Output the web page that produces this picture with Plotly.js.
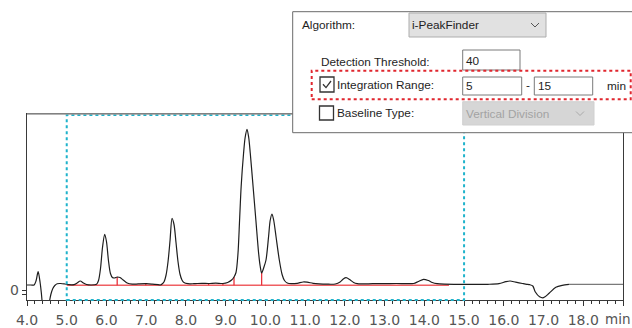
<!DOCTYPE html>
<html>
<head>
<meta charset="utf-8">
<script src="https://cdn.plot.ly/plotly-3.0.1.min.js"></script>
<style>
html,body{margin:0;padding:0;background:#fff;}
#chart{width:632px;height:328px;}
</style>
</head>
<body>
<div id="chart"></div>
<script>
// ---- data ----
const timeMin = [4.00,4.10,4.18,4.23,4.28,4.33,4.36,4.39,4.47,4.56,4.60,4.65,4.70,4.76,4.85,4.95,5.05,5.18,5.26,5.34,5.42,5.50,5.62,
  5.75,5.80,5.85,5.90,5.955,6.00,6.05,6.10,6.15,6.20,6.27,6.34,6.42,6.52,6.65,6.80,7.00,7.15,7.30,7.36,
  7.40,7.45,7.50,7.55,7.60,7.65,7.70,7.75,7.80,7.85,7.90,7.95,8.05,8.20,8.40,8.57,8.75,8.93,9.05,9.15,9.21,9.26,
  9.31,9.35,9.39,9.45,9.49,9.537,9.58,9.62,9.69,9.76,9.83,9.87,9.905,9.96,10.015,10.08,10.12,10.166,10.21,10.267,10.35,10.42,10.48,10.55,10.65,
  10.80,10.95,11.05,11.20,11.35,11.55,11.76,11.88,11.96,12.03,12.12,12.22,12.31,12.45,12.70,13.00,13.30,13.55,
  13.73,13.85,13.98,14.10,14.20,14.32,14.50,14.80,15.20,15.60,15.88,16.05,16.16,16.30,16.47,16.58,16.65,16.73,16.79,16.90,17.00,17.14,17.31,17.47,17.64];
const signal = [5.5,5.5,5.6,10,18.8,8,-2,-14,-30,-12,-4,2,5,6.8,7,6.5,5.8,5.8,7.5,9.5,7.5,6,5.5,
  6.2,10,22,43,56.2,49,30,17,13,12.5,13.5,13,10.5,7.5,6.3,6.6,6.8,6.4,5.8,5.5,
  6.5,8.8,15.5,29,50,72.2,66,48,29,16.5,10.5,8,6.8,6.8,7.2,7.0,7.4,7.0,8,10.5,13.5,18,
  37,70,104,137,153,161.2,153,137,104,70.5,37,24,17.5,23,30.5,54,70,76.5,70,54,30.5,16,10,7.5,6.8,
  7.2,8.5,8.3,7.2,6.6,6.3,6.5,8.5,11.5,12.8,11,8,6.8,6.6,6.8,6.8,7.0,6.8,
  7.0,9,11.2,10,8,6.8,6.3,6.2,6.2,6.2,6.8,8.8,9.5,8.3,7,6.2,5.8,4.5,-1.2,-6.2,-7.2,-2.8,3.2,5.2,6.2];
const tailMin = [17.64, 19.0];
const tailSignal = [6.2, 6.2];
const integrationRange = [5, 15];
const baselineMin = [5.0, 14.62];
const baselineSignal = [5.3, 5.3];
const splitMin = [6.27, 6.99, 8.57, 8.93, 9.21, 9.905];
const splitTop = [13.5, 6.8, 7.0, 7.0, 13.5, 17.5];
const tickVals = [4,5,6,7,8,9,10,11,12,13,14,15,16,17,18,19];
const tickText = ['4.0','5.0','6.0','7.0','8.0','9.0','10.0','11.0','12.0','13.0','14.0','15.0','16.0','17.0','18.0',''];
const unitLabel = 'min';

// ---- layout geometry ----
const W = 632, H = 328;
const M = {l:27, r:9, t:114, b:28};
const PW = W - M.l - M.r, PH = H - M.t - M.b;
const px = X => (X - M.l) / PW;
const py = Y => (H - M.b - Y) / PH;

// split lines
const sx = [], sy = [];
splitMin.forEach((t,i) => { sx.push(t, t, null); sy.push(baselineSignal[0], splitTop[i], null); });

const traces = [
  {x: baselineMin, y: baselineSignal, mode:'lines', line:{color:'#ef5f62', width:1.4}, hoverinfo:'skip'},
  {x: sx, y: sy, mode:'lines', line:{color:'#e8323c', width:1.3}, hoverinfo:'skip'},
  {x: timeMin, y: signal, mode:'lines', line:{color:'#1e1e1e', width:1.2, shape:'spline', smoothing:0.8}, hoverinfo:'skip'},
  {x: tailMin, y: tailSignal, mode:'lines', line:{color:'#7a7a7a', width:1.3}, hoverinfo:'skip'}
];

function rectPx(x0,y0,x1,y1,fill,line,lw,dash){
  return {type:'rect', xref:'paper', yref:'paper', x0:px(x0), x1:px(x1), y0:py(y1), y1:py(y0),
    fillcolor:fill, line:{color:line, width:lw, dash:dash||'solid'}, layer:'above'};
}
function pathPx(pts,color,lw){
  const d = pts.map((p,i)=>(i?'L':'M')+px(p[0])+','+py(p[1])).join(' ');
  return {type:'path', xref:'paper', yref:'paper', path:d, line:{color:color,width:lw}, layer:'above'};
}
const shapes = [
  {type:'rect', xref:'x', yref:'paper', x0:integrationRange[0], x1:integrationRange[1], y0:0, y1:py(115),
   line:{color:'#1fb3cb', width:2, dash:'dot'}, layer:'above'},
  {type:'line', xref:'paper', yref:'paper', x0:0, x1:1, y0:1, y1:1, line:{color:'#9a9a9a', width:1.3}, layer:'above'},
  rectPx(292.7, 11.7, 660, 132.7, '#ffffff', '#6a6a6a', 1),
  rectPx(409, 13, 546, 37, '#e1e1e1', '#adadad', 1),
  pathPx([[531,23],[535,27],[539,23]], '#555', 1),
  rectPx(462.7, 50, 520, 70, '#ffffff', '#7a7a7a', 1),
  rectPx(311.7, 70.7, 630.7, 99.3, 'rgba(0,0,0,0)', '#e0262e', 2, 'dot'),
  rectPx(320, 77, 334, 92, '#ffffff', '#333', 1.3),
  pathPx([[323,84.3],[326,87.6],[331,81]], '#333', 1.3),
  rectPx(462.7, 77, 521.7, 95, '#ffffff', '#7a7a7a', 1),
  rectPx(534.3, 77, 592.7, 95, '#ffffff', '#7a7a7a', 1),
  rectPx(319.5, 106, 333.5, 120, '#ffffff', '#333', 1.3),
  rectPx(462.7, 101.7, 594, 125, '#d6d6d6', '#d0d0d0', 1),
  pathPx([[576,111.5],[580,115.5],[584,111.5]], '#aaaaaa', 1)
];

const dFont = {family:'Liberation Sans, Arial, sans-serif', size:11.8, color:'#1e1e1e'};
function label(text, X, Y, font, anchor){
  return {text:text, xref:'paper', yref:'paper', x:px(X), y:py(Y), xanchor:anchor||'left', yanchor:'middle',
    showarrow:false, font:font||dFont, borderpad:0};
}
const tickFont = {family:'DejaVu Sans, sans-serif', size:14, color:'#555'};
const annotations = [
  label('Algorithm:', 300.5, 25),
  label('i-PeakFinder', 411, 25),
  label('Detection Threshold:', 319.5, 61.5),
  label('40', 465, 61),
  label('Integration Range:', 335.5, 85),
  label('5', 465, 86),
  label('-', 527.7, 85, dFont, 'center'),
  label('15', 537, 86),
  label('min', 606, 86),
  label('Baseline Type:', 335.5, 113),
  label('Vertical Division', 465, 113.5, {family:'Liberation Sans, Arial, sans-serif', size:11.8, color:'#a3a3a3'}),
  label(unitLabel, 631, 319, {family:'DejaVu Sans, sans-serif', size:13.5, color:'#555'}, 'right')
];

const layout = {
  width:W, height:H, margin:M, paper_bgcolor:'#fff', plot_bgcolor:'#fff', showlegend:false,
  xaxis:{range:[4,19], tickvals:tickVals, ticktext:tickText, ticks:'outside', ticklen:5, tickcolor:'#333', tickwidth:1,
    ticklabelstandoff:2,
    minor:{dtick:0.2, ticks:'outside', ticklen:3, tickcolor:'#333', tickwidth:1, showgrid:false},
    showline:true, linecolor:'#3a3a3a', linewidth:1.3, mirror:true, showgrid:false, zeroline:false, tickfont:tickFont},
  yaxis:{range:[-9.5,176.5], tickvals:[0,-3.5], ticktext:['0',''], ticks:'outside', ticklen:4, tickcolor:'#333',
    showline:true, linecolor:'#3a3a3a', linewidth:1.3, mirror:true, showgrid:false, zeroline:false, tickfont:tickFont},
  shapes:shapes, annotations:annotations
};
Plotly.newPlot('chart', traces, layout, {staticPlot:true, displayModeBar:false});
</script>
</body>
</html>
